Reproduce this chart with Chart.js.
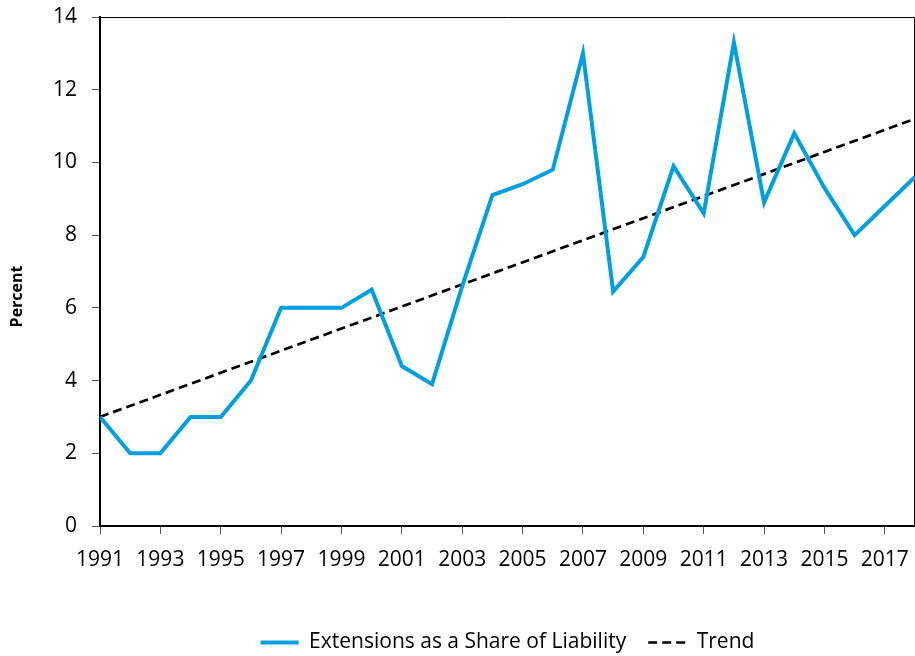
<!DOCTYPE html>
<html>
<head>
<meta charset="utf-8">
<script src="https://cdn.jsdelivr.net/npm/chart.js@4/dist/chart.umd.min.js"></script>
<style>
  html, body { margin: 0; padding: 0; background: #ffffff; }
  #wrap { width: 915px; height: 656px; }
</style>
</head>
<body>
<div id="wrap"><canvas id="c" width="915" height="656"></canvas></div>
<script>
// ---- data ----
const years = [1991,1992,1993,1994,1995,1996,1997,1998,1999,2000,2001,2002,2003,2004,2005,2006,2007,2008,2009,2010,2011,2012,2013,2014,2015,2016,2017,2018];
const extensionsShare = [3.0,2.0,2.0,3.0,3.0,4.0,6.0,6.0,6.0,6.5,4.4,3.9,6.6,9.1,9.4,9.8,13.0,6.45,7.4,9.9,8.6,13.3,8.9,10.8,9.3,8.0,8.8,9.6];
const trendYears = [1991, 2018];
const trendValues = [3.0, 11.2];
const xTickYears = [1991,1993,1995,1997,1999,2001,2003,2005,2007,2009,2011,2013,2015,2017];
const yTicks = [0,2,4,6,8,10,12,14];
const seriesNames = ['Extensions as a Share of Liability', 'Trend'];
const yAxisTitle = 'Percent';

const FONT = "'Open Sans', 'Noto Sans', sans-serif";

const framePlugin = {
  id: 'frame',
  afterLayout(chart) {
    const lg = chart.legend;
    if (lg) { lg.top += 7; lg.bottom += 7; }
  },
  beforeDatasetsDraw(chart) {
    const a = chart.chartArea, ctx = chart.ctx;
    ctx.save();
    ctx.strokeStyle = '#000000';
    ctx.lineWidth = 1;
    ctx.beginPath();
    ctx.moveTo(a.left, a.top + 0.5);
    ctx.lineTo(a.right - 0.5, a.top + 0.5);
    ctx.lineTo(a.right - 0.5, a.bottom);
    ctx.stroke();
    ctx.restore();
  }
};

new Chart(document.getElementById('c'), {
  type: 'line',
  data: {
    datasets: [
      {
        label: seriesNames[0],
        data: years.map((y, i) => ({ x: y, y: extensionsShare[i] })),
        borderColor: '#009fdf',
        backgroundColor: '#009fdf',
        borderWidth: 4,
        pointRadius: 0,
        tension: 0,
        borderJoinStyle: 'miter',
        pointStyle: 'line'
      },
      {
        label: seriesNames[1],
        data: trendYears.map((y, i) => ({ x: y, y: trendValues[i] })),
        borderColor: '#000000',
        backgroundColor: '#000000',
        borderWidth: 2.7,
        borderDash: [9, 5],
        pointRadius: 0,
        tension: 0,
        pointStyle: 'line'
      }
    ]
  },
  options: {
    responsive: false,
    devicePixelRatio: 1,
    animation: false,
    layout: { padding: { top: 17, right: 0, bottom: 0, left: 0 } },
    plugins: {
      legend: {
        position: 'bottom',
        fullSize: false,
        labels: {
          usePointStyle: true,
          pointStyleWidth: 38,
          color: '#000000',
          font: { family: FONT, size: 21 },
          padding: 22,
          generateLabels(chart) {
            return chart.data.datasets.map((ds, i) => ({
              text: ds.label,
              strokeStyle: ds.borderColor,
              fillStyle: ds.borderColor,
              lineWidth: ds.borderWidth,
              lineDash: ds.borderDash || [],
              pointStyle: 'line',
              datasetIndex: i,
              fontColor: '#000000'
            }));
          }
        }
      },
      tooltip: { enabled: false }
    },
    scales: {
      x: {
        type: 'linear',
        min: 1991,
        max: 2018,
        afterBuildTicks(scale) { scale.ticks = xTickYears.map(v => ({ value: v })); },
        afterFit(scale) { scale.height = 77; scale.paddingLeft = 0; scale.paddingRight = 0; },
        ticks: {
          color: '#000000',
          font: { family: FONT, size: 21 },
          padding: 13,
          maxRotation: 0,
          autoSkip: false,
          callback: (v) => String(v)
        },
        grid: { drawOnChartArea: false, drawTicks: true, tickLength: 8, color: '#555555', lineWidth: 1 },
        border: { display: true, color: '#000000', width: 2 }
      },
      y: {
        min: 0,
        max: 14,
        afterBuildTicks(scale) { scale.ticks = yTicks.map(v => ({ value: v })); },
        afterFit(scale) { scale.width = 100; scale.paddingTop = 0; scale.paddingBottom = 0; },
        ticks: {
          color: '#000000',
          font: { family: FONT, size: 21 },
          padding: 15,
          callback: (v) => String(v)
        },
        grid: { drawOnChartArea: false, drawTicks: true, tickLength: 8, color: '#555555', lineWidth: 1 },
        border: { display: true, color: '#000000', width: 2 },
        title: {
          display: true,
          text: yAxisTitle + '\u00a0'.repeat(12),
          color: '#000000',
          font: { family: FONT, size: 16, weight: 'bold' },
          padding: { top: 8, bottom: 0 }
        }
      }
    }
  },
  plugins: [framePlugin]
});
</script>
</body>
</html>
